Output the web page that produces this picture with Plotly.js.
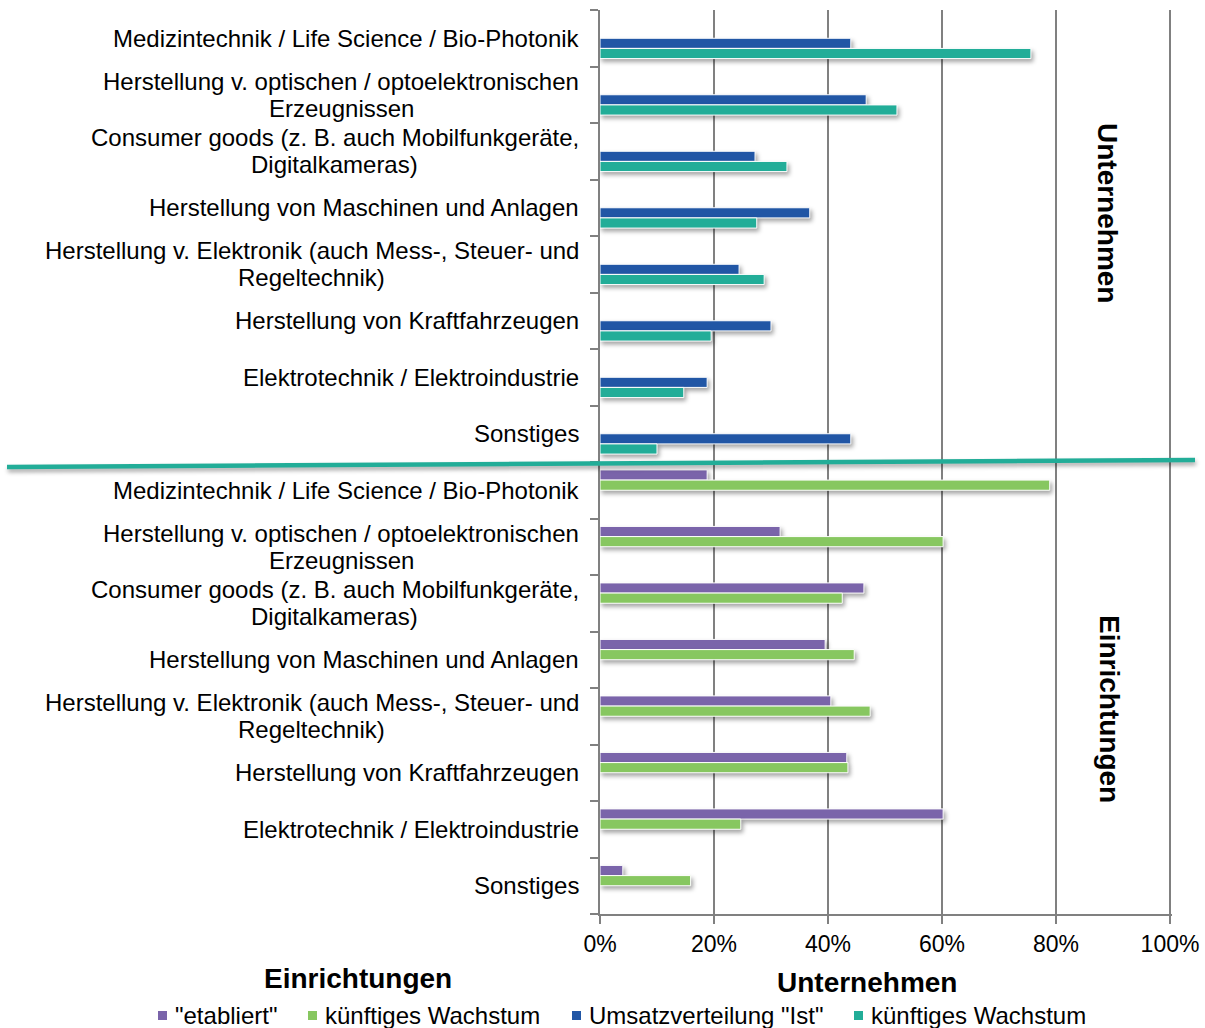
<!DOCTYPE html>
<html>
<head>
<meta charset="utf-8">
<script src="https://cdn.plot.ly/plotly-3.0.1.min.js"></script>
<style>
  html, body { margin: 0; padding: 0; background: #fff; }
  #chart { width: 1205px; height: 1028px; }
  .barlayer .trace path { filter: drop-shadow(2px 3px 2px rgba(0,0,0,0.35)); }
  .shapelayer path.divider { filter: drop-shadow(1px 3px 2px rgba(0,0,0,0.35)); }
</style>
</head>
<body>
<div id="chart"></div>
<script>
// Industry categories (same list for both groups)
const categories = [
  'Medizintechnik / Life Science / Bio-Photonik',
  'Herstellung v. optischen / optoelektronischen<br>Erzeugnissen',
  'Consumer goods (z. B. auch Mobilfunkgeräte,<br>Digitalkameras)',
  'Herstellung von Maschinen und Anlagen',
  'Herstellung v. Elektronik (auch Mess-, Steuer- und<br>Regeltechnik)',
  'Herstellung von Kraftfahrzeugen',
  'Elektrotechnik / Elektroindustrie',
  'Sonstiges'
];

// Unternehmen (percent)
const unternehmenIst      = [44, 46.7, 27.2, 36.8, 24.4, 30, 18.8, 44];
const unternehmenWachstum = [75.6, 52.1, 32.8, 27.5, 28.8, 19.5, 14.7, 10];

// Einrichtungen (percent)
const einrichtungenEtabliert = [18.8, 31.6, 46.3, 39.5, 40.5, 43.3, 60.2, 4];
const einrichtungenWachstum  = [78.9, 60.2, 42.5, 44.6, 47.4, 43.5, 24.7, 15.9];

const seriesNames = ['"etabliert"', 'künftiges Wachstum', 'Umsatzverteilung "Ist"', 'künftiges Wachstum'];
const groupTitles = ['Unternehmen', 'Einrichtungen'];
const xTicks = [0, 20, 40, 60, 80, 100];
const xTickText = xTicks.map(v => v + '%');

const colors = { ist: '#2156a5', teal: '#22ad98', purple: '#7a64aa', green: '#87c760' };
const seriesColors = [colors.purple, colors.green, colors.ist, colors.teal];
const FONT = 'Liberation Sans, Arial, Helvetica, sans-serif';
const n = categories.length;

// Page geometry (pixels)
const M = { l: 600, r: 33, t: 10, b: 114 };
const W = 1205, H = 1028;
const plotW = W - M.l - M.r, plotH = H - M.t - M.b;
const xp = px => (px - M.l) / plotW;
const yp = py => (H - M.b - py) / plotH;

const posTop = categories.map((_, i) => i);
const posBottom = categories.map((_, i) => i + n);
const barW = 0.18;

function barTrace(values, pos, name, color, offset) {
  return {
    type: 'bar', orientation: 'h',
    x: values, y: pos, name: name,
    width: barW, offset: offset,
    marker: { color: color, line: { color: '#ffffff', width: 1 } },
    showlegend: false
  };
}

const traces = [
  barTrace(einrichtungenEtabliert, posBottom, seriesNames[0], seriesColors[0], -2 * barW),
  barTrace(einrichtungenWachstum, posBottom, seriesNames[1], seriesColors[1], -barW),
  barTrace(unternehmenIst, posTop, seriesNames[2], seriesColors[2], 0),
  barTrace(unternehmenWachstum, posTop, seriesNames[3], seriesColors[3], barW)
];

// Category label blocks: right-aligned block, lines centred inside it
const canvas = document.createElement('canvas');
const ctx = canvas.getContext('2d');
const labelSize = 24;
ctx.font = labelSize + 'px "Liberation Sans", Arial, sans-serif';
const lineGap = 27;
const annotations = [];
[posTop, posBottom].forEach(positions => {
  categories.forEach((label, i) => {
    const lines = label.split('<br>');
    const maxW = Math.max(...lines.map(l => ctx.measureText(l).width));
    lines.forEach((line, k) => {
      annotations.push({
        xref: 'paper', yref: 'y', x: 0, y: positions[i],
        xanchor: 'center', yanchor: 'middle',
        xshift: -21 - maxW / 2,
        yshift: ((lines.length - 1) / 2 - k) * lineGap,
        text: line, showarrow: false,
        font: { family: FONT, size: labelSize, color: '#000' }
      });
    });
  });
});

// Group labels
function title(text, px, py, angle) {
  return {
    xref: 'paper', yref: 'paper', x: xp(px), y: yp(py),
    xanchor: 'center', yanchor: 'middle', textangle: angle || 0,
    text: '<b>' + text + '</b>', showarrow: false,
    font: { family: FONT, size: 28, color: '#000' }
  };
}
annotations.push(
  title(groupTitles[0], 1108, 213, 90),
  title(groupTitles[1], 1110, 709, 90),
  title(groupTitles[1], 358, 978),
  title(groupTitles[0], 867, 982)
);

// Legend row
const legendTextX = [173, 323, 587, 869];
const legendY = 1015;
const shapes = [];
seriesNames.forEach((name, i) => {
  annotations.push({
    xref: 'paper', yref: 'paper', x: xp(legendTextX[i]), y: yp(legendY),
    xanchor: 'left', yanchor: 'middle', text: name, showarrow: false,
    font: { family: FONT, size: 24, color: '#000' }
  });
  shapes.push({
    type: 'rect', xref: 'paper', yref: 'paper',
    x0: xp(legendTextX[i] - 15), x1: xp(legendTextX[i] - 6),
    y0: yp(legendY + 5), y1: yp(legendY - 4),
    fillcolor: seriesColors[i], line: { width: 0 }
  });
});

// Divider between the two groups
shapes.push({
  type: 'line', xref: 'paper', yref: 'paper', name: 'divider',
  x0: xp(7), y0: yp(467), x1: xp(1195), y1: yp(460),
  line: { color: colors.teal, width: 4.5 }, layer: 'above'
});

const boundaries = [];
for (let b = -0.5; b <= 2 * n - 0.5; b += 1) boundaries.push(b);

const layout = {
  width: W, height: H,
  margin: M,
  paper_bgcolor: '#ffffff', plot_bgcolor: '#ffffff',
  barmode: 'overlay',
  showlegend: false,
  xaxis: {
    range: [0, 100 * plotW / 570], tickmode: 'array', tickvals: xTicks, ticktext: xTickText,
    showgrid: true, gridcolor: '#808080', gridwidth: 1.5,
    showline: true, linecolor: '#808080', linewidth: 2,
    ticks: 'outside', ticklen: 8, tickwidth: 2, tickcolor: '#808080',
    zeroline: false, fixedrange: true,
    tickfont: { family: FONT, size: 23, color: '#000' }
  },
  yaxis: {
    range: [2 * n - 0.5, -0.5], tickmode: 'array', tickvals: boundaries, showticklabels: false,
    ticks: 'outside', ticklen: 8, tickwidth: 2, tickcolor: '#808080',
    showline: true, linecolor: '#808080', linewidth: 2,
    showgrid: false, zeroline: false, fixedrange: true
  },
  shapes: shapes,
  annotations: annotations
};

Plotly.newPlot('chart', traces, layout, { displayModeBar: false, staticPlot: true }).then(gd => {
  const paths = gd.querySelectorAll('.shapelayer path');
  if (paths.length) paths[paths.length - 1].classList.add('divider');
});
</script>
</body>
</html>
